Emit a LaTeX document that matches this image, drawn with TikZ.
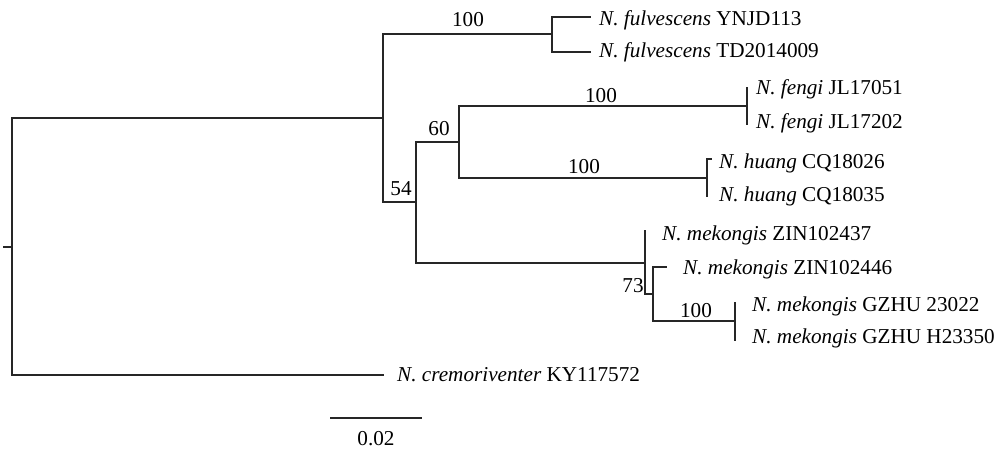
\documentclass[tikz,border=0pt]{standalone}
\usepackage{fontspec}
\setmainfont{Liberation Serif}
\begin{document}
\begin{tikzpicture}[x=1pt,y=-1pt,
  br/.style={line width=1.5pt,line cap=rect,color=black!85},
  tip/.style={anchor=base west,inner sep=0pt,font=\fontsize{21.2}{24}\selectfont},
  boot/.style={anchor=base,inner sep=0pt,font=\fontsize{21.2}{24}\selectfont}]
\useasboundingbox (0,0) rectangle (999,448);
% internal nodes
\coordinate (R) at (12,247);
\coordinate (R0) at (4,247);
\coordinate (A) at (383,118);
\coordinate (E) at (552,34);
\coordinate (B) at (416,202);
\coordinate (C) at (459,142);
\coordinate (D) at (645,263);
\coordinate (Fg) at (747,106);
\coordinate (H) at (707,178);
\coordinate (F) at (653,294);
\coordinate (G) at (735,321);
% tips
\coordinate (cre) at (383,375);
\coordinate (e1) at (590,17);
\coordinate (e2) at (590,52);
\coordinate (fg1) at (747,88);
\coordinate (fg2) at (747,124);
\coordinate (h1) at (707,159);
\coordinate (h1t) at (711,159);
\coordinate (h2) at (707,196);
\coordinate (m1) at (645,231);
\coordinate (m2) at (666,267);
\coordinate (g1) at (735,303);
\coordinate (g2) at (735,340);
\coordinate (sb1) at (331,418);
\coordinate (sb2) at (421,418);
% branches
\draw[br] (R0) -- (R);
\draw[br] (A) -| (R) |- (cre);
\draw[br] (E) -| (A) |- (B);
\draw[br] (C) -| (B) |- (D);
\draw[br] (Fg) -| (C) |- (H);
\draw[br] (e1) -| (E) |- (e2);
\draw[br] (fg1) -- (fg2);
\draw[br] (h1t) -| (h1) -- (h2);
\draw[br] (m1) |- (F);
\draw[br] (m2) -| (F) |- (G);
\draw[br] (g1) -- (g2);
\draw[br] (sb1) -- (sb2);
% tip labels
\node[tip] (Lfu1) at (599,25) {\textit{N. fulvescens} YNJD113};
\node[tip] (Lfu2) at (599,57) {\textit{N. fulvescens} TD2014009};
\node[tip] (Lfe1) at (756,94) {\textit{N. fengi} JL17051};
\node[tip] (Lfe2) at (756,128) {\textit{N. fengi} JL17202};
\node[tip] (Lhu1) at (719,168) {\textit{N. huang} CQ18026};
\node[tip] (Lhu2) at (719,201) {\textit{N. huang} CQ18035};
\node[tip] (Lme1) at (662,240) {\textit{N. mekongis} ZIN102437};
\node[tip] (Lme2) at (683,274) {\textit{N. mekongis} ZIN102446};
\node[tip] (Lme3) at (752,311) {\textit{N. mekongis} GZHU 23022};
\node[tip] (Lme4) at (752,343) {\textit{N. mekongis} GZHU H23350};
\node[tip] (Lcr) at (397,381) {\textit{N. cremoriventer} KY117572};
% bootstrap values
\node[boot] (b1) at (468,26) {100};
\node[boot] (b2) at (439,135) {60};
\node[boot] (b3) at (601,102) {100};
\node[boot] (b4) at (584,173) {100};
\node[boot] (b5) at (401,195) {54};
\node[boot] (b6) at (633,292) {73};
\node[boot] (b7) at (696,317) {100};
\node[boot] (sbl) at (376,445) {0.02};
\end{tikzpicture}
\end{document}
